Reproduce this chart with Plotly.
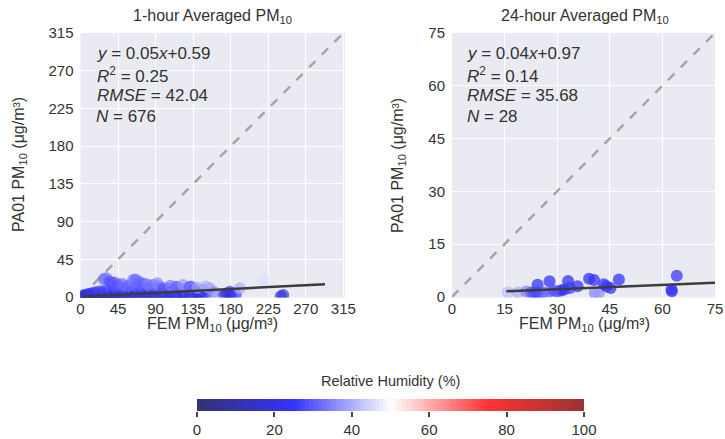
import plotly.graph_objects as go

W, H = 725, 439

# ---------------- data ----------------
# 1-hour averaged (FEM x, PA01 y, RH)
h1_x = [1,2,3,4,5,6,7,8,9,10,11,12,13,14,15,16,17,18,19,20,21,22,23,24,25,26,27,28,29,30,
        31,32,33,34,35,36,37,38,39,40,41,42,43,44,45,46,47,48,49,50,52,54,55,56,58,60,61,63,64,66,
        68,69,71,72,74,76,77,79,80,82,84,85,87,89,90,92,94,95,97,99,100,102,104,105,107,109,111,113,115,116,
        118,120,121,123,125,127,129,131,133,134,136,138,140,142,145,147,150,155,160,
        28,31,35,38,41,45,50,57,63,66,70,75,80,87,92,99,108,115,123,131,140,150,
        172,175,179,180,186,191,219,243,240]
h1_y = [0.5,1.2,0.4,2.0,0.8,1.5,3.0,0.6,2.2,1.0,4.0,0.5,2.8,1.6,5.0,0.8,3.5,1.2,6.0,0.5,2.5,4.5,1.0,7.0,2.0,0.6,5.5,3.0,1.2,8.0,
        4.0,0.8,6.5,2.2,1.0,5.0,9.0,3.0,0.7,7.0,2.0,4.5,1.2,10.0,6.0,3.0,0.9,8.0,2.0,5.0,1.0,7.5,3.5,11.0,1.5,6.0,2.5,9.0,0.8,4.5,
        12.0,2.0,7.0,1.0,5.0,10.0,2.5,0.8,6.5,3.5,11.5,1.5,8.0,4.0,1.0,6.0,12.5,2.0,9.0,3.5,1.0,7.0,10.5,2.5,5.0,1.0,8.0,3.0,12.0,1.5,
        6.0,9.5,2.0,4.5,1.0,7.5,11.0,3.0,12.5,1.5,6.0,9.0,2.5,4.5,1.0,8.4,3.0,10.5,6.0,
        21.5,22.5,18.5,16.3,17.5,14.0,15.5,13.5,20.3,21.0,18.0,16.3,15.0,14.3,16.5,10.4,13.5,12.3,14.5,12.3,11.0,12.5,
        2.0,4.4,6.3,1.5,3.0,10.4,20.0,2.4,1.0]
h1_rh = [14,16,13,18,15,17,22,14,18,15,22,13,19,16,24,14,21,16,26,13,19,23,15,28,17,14,25,20,16,29,
         22,15,27,18,15,24,31,20,14,27,18,22,15,32,26,20,15,29,18,24,15,28,21,33,16,26,19,30,14,23,
         33,17,28,15,24,31,19,14,27,21,33,16,29,22,15,27,34,18,30,21,15,28,32,18,24,15,29,20,34,16,
         27,31,18,23,15,29,33,20,35,16,27,30,18,23,15,29,24,37,35,
         31,33,29,28,30,29,32,31,33,32,31,30,33,32,35,29,34,31,37,30,39,40,
         20,18,22,16,26,40,46,18,20]

# 24-hour averaged
h24_x = [15.9,18.8,21.2,22.6,24.4,24.4,25.9,27.8,27.8,30.0,31.1,32.0,33.1,33.6,35.8,39.1,40.5,40.7,41.9,43.3,
         45.2,47.6,62.6,62.7,64.1,23.5,29.0,44.0]
h24_y = [1.2,1.2,1.5,1.2,3.4,1.2,1.2,4.4,1.5,1.5,1.8,2.1,4.5,2.5,3.0,5.1,4.8,1.1,1.1,3.6,
         2.5,4.9,2.1,1.6,6.0,1.3,1.8,3.0]
h24_rh = [42,40,35,30,25,27,30,24,32,30,25,24,25,26,25,23,25,36,37,26,
          24,25,24,25,26,28,29,25]

# fits: slope, intercept, x-extent
h1_fit = [0.05, 0.59]
h1_fit_x = [2.6, 293]
h24_fit = [0.04, 0.97]
h24_fit_x = [15.5, 75]

h1_ticks = [0, 45, 90, 135, 180, 225, 270, 315]
h24_ticks = [0, 15, 30, 45, 60, 75]
cb_ticks = [0, 20, 40, 60, 80, 100]
cb_edges = list(range(0, 101))

h1_stats = ["<i>y</i> = 0.05<i>x</i>+0.59", "<i>R</i><sup>2</sup> = 0.25", "<i>RMSE</i> = 42.04", "<i>N</i> = 676"]
h24_stats = ["<i>y</i> = 0.04<i>x</i>+0.97", "<i>R</i><sup>2</sup> = 0.14", "<i>RMSE</i> = 35.68", "<i>N</i> = 28"]

# ---------------- styling ----------------
colorscale = [[0.0, "rgb(51,51,112)"], [0.25, "rgb(51,51,255)"], [0.5, "rgb(255,255,255)"],
              [0.75, "rgb(255,51,51)"], [1.0, "rgb(153,51,51)"]]
TXT = "#333333"
FONT = "Liberation Sans, Arial, sans-serif"

def px_x(p):
    return p / W

def px_y(p):
    return 1 - p / H

fig = go.Figure()

# left panel
fig.add_trace(go.Scatter(x=[0, h1_ticks[-1]], y=[0, h1_ticks[-1]], mode="lines",
                         line=dict(color="#a5a5a8", width=2.5, dash="dash"), xaxis="x", yaxis="y",
                         showlegend=False, hoverinfo="skip"))
fig.add_trace(go.Scatter(x=h1_x, y=h1_y, mode="markers", xaxis="x", yaxis="y", showlegend=False,
                         marker=dict(size=12, color=h1_rh, colorscale=colorscale, cmin=0, cmax=100,
                                     opacity=0.68, line=dict(width=0), showscale=False)))
fig.add_trace(go.Scatter(x=h1_fit_x, y=[h1_fit[0] * v + h1_fit[1] for v in h1_fit_x], mode="lines",
                         line=dict(color="#3c3c3c", width=2.5), xaxis="x", yaxis="y",
                         showlegend=False, hoverinfo="skip"))

# right panel
fig.add_trace(go.Scatter(x=[0, h24_ticks[-1]], y=[0, h24_ticks[-1]], mode="lines",
                         line=dict(color="#a5a5a8", width=2.5, dash="dash"), xaxis="x2", yaxis="y2",
                         showlegend=False, hoverinfo="skip"))
fig.add_trace(go.Scatter(x=h24_x, y=h24_y, mode="markers", xaxis="x2", yaxis="y2", showlegend=False,
                         marker=dict(size=12, color=h24_rh, colorscale=colorscale, cmin=0, cmax=100,
                                     opacity=0.75, line=dict(width=0), showscale=False)))
fig.add_trace(go.Scatter(x=h24_fit_x, y=[h24_fit[0] * v + h24_fit[1] for v in h24_fit_x], mode="lines",
                         line=dict(color="#3c3c3c", width=2.5), xaxis="x2", yaxis="y2",
                         showlegend=False, hoverinfo="skip"))

# colour bar drawn as a heatmap strip on its own axes
fig.add_trace(go.Heatmap(x=cb_edges, y=[0, 1], z=[[v + 0.5 for v in cb_edges[:-1]]],
                         colorscale=colorscale, zmin=0, zmax=100, showscale=False,
                         xaxis="x3", yaxis="y3", hoverinfo="skip"))

axis_common = dict(showgrid=True, gridcolor="white", gridwidth=1.3, zeroline=False, showline=False,
                   ticks="", tickfont=dict(size=15, color=TXT, family=FONT), automargin=False,
                   ticklabeloverflow="allow")

ydom = [px_y(297.5), px_y(33)]
fig.update_layout(
    width=W, height=H,
    margin=dict(l=0, r=0, t=0, b=0),
    paper_bgcolor="white", plot_bgcolor="#EAEAF2",
    font=dict(family=FONT, color=TXT),
    xaxis=dict(domain=[px_x(80.5), px_x(345)], range=[0, 317], tickvals=h1_ticks, anchor="y", **axis_common),
    yaxis=dict(domain=ydom, range=[-0.5, 315], tickvals=h1_ticks, anchor="x", ticklabelstandoff=6,
               **axis_common),
    xaxis2=dict(domain=[px_x(452), px_x(715)], range=[0, 75], tickvals=h24_ticks, anchor="y2",
                **axis_common),
    yaxis2=dict(domain=ydom, range=[-0.2, 75], tickvals=h24_ticks, anchor="x2", ticklabelstandoff=6,
                **axis_common),
    xaxis3=dict(domain=[px_x(197), px_x(584)], range=[0, 100], tickvals=cb_ticks, anchor="y3",
                showgrid=False, zeroline=False, showline=False, ticks="outside", ticklen=5, tickwidth=1.5,
                tickcolor="#444", tickfont=dict(size=15, color=TXT, family=FONT), automargin=False),
    yaxis3=dict(domain=[px_y(411), px_y(399)], range=[0, 1], anchor="x3", visible=False,
                showgrid=False, zeroline=False),
)

ann = []
# titles
ann.append(dict(text="1-hour Averaged PM<sub>10</sub>", x=px_x(212.7), y=px_y(17), xref="paper", yref="paper",
                showarrow=False, xanchor="center", yanchor="middle", font=dict(size=16, color=TXT)))
ann.append(dict(text="24-hour Averaged PM<sub>10</sub>", x=px_x(584.5), y=px_y(17), xref="paper", yref="paper",
                showarrow=False, xanchor="center", yanchor="middle", font=dict(size=16, color=TXT)))
# axis titles
for cx in (212.7, 584.5):
    ann.append(dict(text="FEM PM<sub>10</sub> (μg/m³)", x=px_x(cx), y=px_y(324), xref="paper", yref="paper",
                    showarrow=False, xanchor="center", yanchor="middle", font=dict(size=16, color=TXT)))
for cx in (20, 399):
    ann.append(dict(text="PA01 PM<sub>10</sub> (μg/m³)", x=px_x(cx), y=px_y(165), xref="paper", yref="paper",
                    showarrow=False, xanchor="center", yanchor="middle", textangle=-90,
                    font=dict(size=16, color=TXT)))
# colour bar title
ann.append(dict(text="Relative Humidity (%)", x=px_x(390.5), y=px_y(381), xref="paper", yref="paper",
                showarrow=False, xanchor="center", yanchor="middle", font=dict(size=14.5, color=TXT)))
# stats
line_y = [54, 74.5, 95.5, 116.5]
for lx, stats in ((94.5, h1_stats), (464.5, h24_stats)):
    for t, ly in zip(stats, line_y):
        ann.append(dict(text=t, x=px_x(lx), y=px_y(ly), xref="paper", yref="paper",
                        showarrow=False, xanchor="left", yanchor="middle", font=dict(size=17, color=TXT)))
fig.update_layout(annotations=ann)

fig.write_html("out.html", post_script="document.body.style.margin='0px';",
               config={"displayModeBar": False})
